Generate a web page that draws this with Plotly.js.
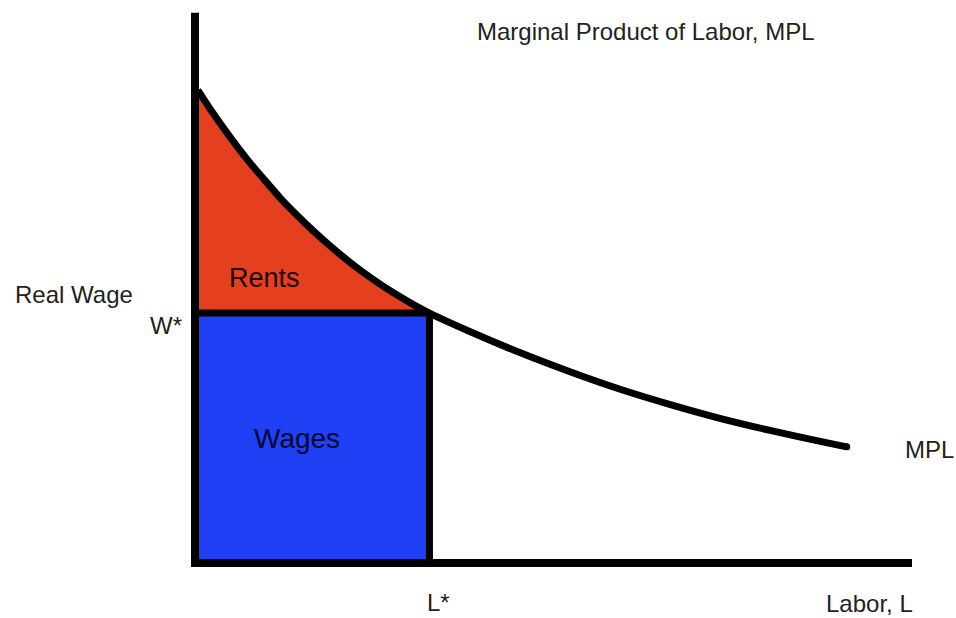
<!DOCTYPE html>
<html>
<head>
<meta charset="utf-8">
<script src="https://cdn.plot.ly/plotly-3.0.1.min.js"></script>
<style>
  html, body { margin: 0; padding: 0; background: #ffffff; }
  #chart { width: 956px; height: 618px; }
</style>
</head>
<body>
<div id="chart"></div>
<script>
// ---- Data ----
// Marginal product of labor curve: labor (x) and real wage (y)
var mplLabor = [0.04, 0.25, 0.49, 0.73, 0.95, 1.19, 1.42, 1.65, 1.88, 2.12, 2.34, 2.58, 2.82, 3.04, 3.27, 3.84, 4.53, 5.23, 5.93, 6.63, 7.32, 8.02, 8.72, 9.09];
var mplWage  = [8.63, 8.21, 7.77, 7.36, 7.02, 6.66, 6.35, 6.06, 5.79, 5.53, 5.31, 5.09, 4.89, 4.72, 4.56, 4.22, 3.84, 3.49, 3.17, 2.89, 2.64, 2.42, 2.22, 2.12];
// Equilibrium
var lStar = 3.27;
var wStar = 4.56;
// Axis extents
var axisTop = 10.04;
var axisRight = 10.0;

// Labels
var labels = {
  title: "Marginal Product of Labor, MPL",
  yLabel: "Real Wage",
  wStarLabel: "W*",
  lStarLabel: "L*",
  xLabel: "Labor, L",
  curveLabel: "MPL",
  rents: "Rents",
  wages: "Wages"
};

// ---- Build areas from data ----
var rentX = [0], rentY = [mplWage[0]];
for (var i = 0; i < mplLabor.length; i++) {
  if (mplLabor[i] <= lStar) { rentX.push(mplLabor[i]); rentY.push(mplWage[i]); }
}
rentX.push(lStar); rentY.push(wStar);
rentX.push(0); rentY.push(wStar);

var RED = "#e4401f";
var BLUE = "#1f40f5";
var LW = 7;

var traces = [
  { // wages rectangle
    x: [0, lStar, lStar, 0, 0], y: [0, 0, wStar, wStar, 0],
    mode: "lines", fill: "toself", fillcolor: BLUE,
    line: { color: "#8a6cf5", width: 1.5 }, hoverinfo: "skip"
  },
  { // rents area
    x: rentX, y: rentY,
    mode: "lines", fill: "toself", fillcolor: RED,
    line: { color: RED, width: 0 }, hoverinfo: "skip"
  },
  { // W* line
    x: [0, lStar], y: [wStar, wStar],
    mode: "lines", line: { color: "#000", width: LW }, hoverinfo: "skip"
  },
  { // L* line
    x: [lStar, lStar], y: [0, wStar],
    mode: "lines", line: { color: "#000", width: LW }, hoverinfo: "skip"
  },
  { // MPL curve
    x: mplLabor, y: mplWage,
    mode: "lines", line: { color: "#000", width: LW, shape: "spline", smoothing: 0.8 },
    hoverinfo: "skip"
  },
  { // rounded curve end
    x: [mplLabor[mplLabor.length - 1]], y: [mplWage[mplWage.length - 1]],
    mode: "markers", marker: { color: "#000", size: LW }, hoverinfo: "skip"
  },
  { // axes
    x: [0, 0, axisRight], y: [axisTop, 0, 0],
    mode: "lines", line: { color: "#000", width: 8 }, hoverinfo: "skip"
  }
];

var W = 956, H = 618;
function px(xp) { return xp / W; }
function py(yp) { return 1 - yp / H; }

var font = "Liberation Sans, Arial, Helvetica, sans-serif";
function ann(text, xp, yp, size, color, yanchor) {
  return {
    text: text, xref: "paper", yref: "paper", x: px(xp), y: py(yp),
    xanchor: "center", yanchor: yanchor || "middle", showarrow: false,
    borderpad: 0,
    font: { family: font, size: size, color: color || "#222" }
  };
}

var layout = {
  width: W, height: H,
  margin: { l: 0, r: 0, t: 0, b: 0, pad: 0 },
  paper_bgcolor: "#ffffff", plot_bgcolor: "#ffffff",
  showlegend: false,
  xaxis: { range: [-2.7197, 10.6137], visible: false, fixedrange: true },
  yaxis: { range: [-1.0036, 10.2737], visible: false, fixedrange: true },
  annotations: [
    ann(labels.title, 646, 31, 24),
    ann(labels.yLabel, 74, 295, 24),
    ann(labels.wStarLabel, 166, 325, 24),
    ann(labels.rents, 264, 278, 27, "#1a0500"),
    ann(labels.wages, 297, 438, 28, "#020830"),
    ann(labels.curveLabel, 929, 449, 24),
    ann(labels.lStarLabel, 438, 602, 24),
    ann(labels.xLabel, 869, 618, 24, "#222", "bottom")
  ]
};

Plotly.newPlot("chart", traces, layout, { staticPlot: true, displayModeBar: false });
</script>
</body>
</html>
